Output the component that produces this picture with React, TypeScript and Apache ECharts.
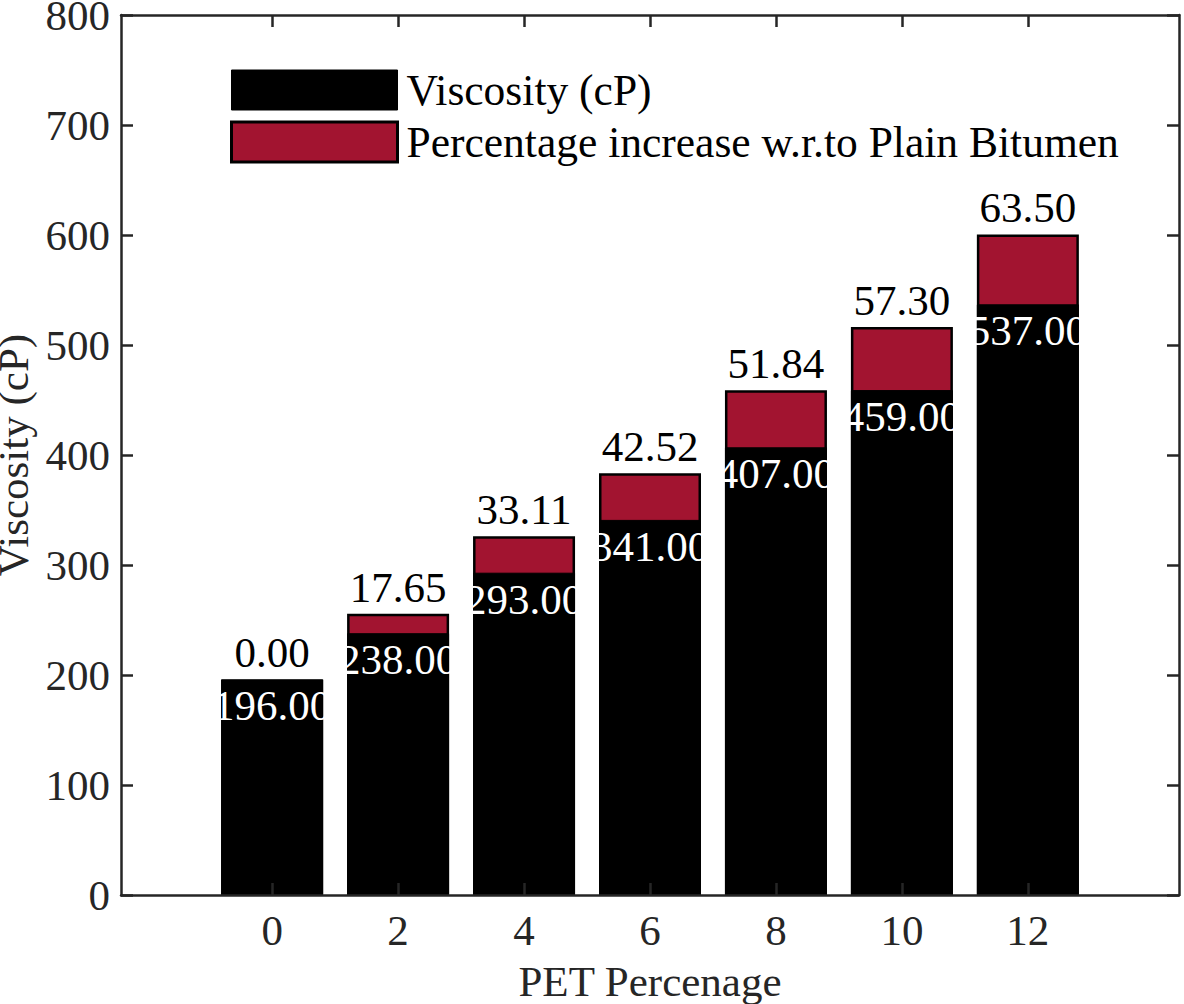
import React, { useEffect, useRef } from 'react';
import * as echarts from 'echarts';

const petPercent = [0, 2, 4, 6, 8, 10, 12];
const viscosity = [196, 238, 293, 341, 407, 459, 537];
const pctIncrease = [0, 17.65, 33.11, 42.52, 51.84, 57.3, 63.5];
const seriesNames = ['Viscosity (cP)', 'Percentage increase w.r.to Plain Bitumen'];
const xName = 'PET Percenage';
const yName = 'Viscosity (cP)';

export default function App() {
  const ref = useRef<HTMLDivElement>(null);
  useEffect(() => {
    const chart = echarts.init(ref.current!, null, { renderer: 'svg' });
    const font = 'Liberation Serif';
    const axisColor = '#262626';
    const crimson = '#A21430';
    const lineStyle = { color: axisColor, width: 2.5 };
    const fs = 43;
    // stacked tops: percentage segment sits on top of the viscosity segment
    const stackedTop = viscosity.map((v, i) => v + pctIncrease[i]);
    chart.setOption({
      animation: false,
      textStyle: { fontFamily: font },
      grid: { left: 121, top: 15, right: 5, bottom: 109, containLabel: false, outerBoundsMode: 'none' },
      legend: {
        orient: 'vertical',
        left: 230,
        top: 68,
        padding: 0,
        itemWidth: 166,
        itemHeight: 40,
        itemGap: 8,
        icon: 'rect',
        textStyle: { fontFamily: font, fontSize: 43.5, color: '#000', lineHeight: 40, padding: [0, 0, 0, 4] },
        data: [
          { name: seriesNames[0], itemStyle: { color: '#000', borderColor: '#000', borderWidth: 1 } },
          { name: seriesNames[1], itemStyle: { color: crimson, borderColor: '#000', borderWidth: 3 } },
        ],
      },
      xAxis: [
        {
          type: 'value',
          min: -2.4,
          max: 14.4,
          position: 'bottom',
          z: 10,
          name: xName,
          nameLocation: 'middle',
          nameGap: 65,
          nameTextStyle: { fontSize: fs, color: axisColor, fontFamily: font },
          axisLine: { show: true, onZero: false, lineStyle },
          axisTick: { show: true, inside: true, length: 12, customValues: petPercent, lineStyle },
          axisLabel: { customValues: petPercent, fontSize: fs, color: axisColor, margin: 14, fontFamily: font },
          splitLine: { show: false },
        },
        {
          type: 'value',
          min: -2.4,
          max: 14.4,
          position: 'top',
          z: 10,
          axisLine: { show: true, onZero: false, lineStyle },
          axisTick: { show: true, inside: true, length: 12, customValues: petPercent, lineStyle },
          axisLabel: { show: false },
          splitLine: { show: false },
        },
      ],
      yAxis: [
        {
          type: 'value',
          min: 0,
          max: 800,
          interval: 100,
          position: 'left',
          z: 10,
          name: yName,
          nameLocation: 'middle',
          nameGap: 80,
          nameTextStyle: { fontSize: fs, color: axisColor, fontFamily: font },
          axisLine: { show: true, onZero: false, lineStyle },
          axisTick: { show: true, inside: true, length: 12, lineStyle },
          axisLabel: { fontSize: fs, color: axisColor, margin: 11, fontFamily: font },
          splitLine: { show: false },
        },
        {
          type: 'value',
          min: 0,
          max: 800,
          interval: 100,
          position: 'right',
          z: 10,
          axisLine: { show: true, onZero: false, lineStyle },
          axisTick: { show: true, inside: true, length: 12, lineStyle },
          axisLabel: { show: false },
          splitLine: { show: false },
        },
      ],
      series: [
        {
          type: 'bar',
          name: seriesNames[1],
          barWidth: 102,
          barGap: '-100%',
          z: 2,
          data: petPercent.map((x, i) => [x, stackedTop[i]]),
          itemStyle: { color: crimson, borderColor: '#000', borderWidth: 2.5 },
          label: {
            show: true,
            position: 'top',
            distance: 5,
            formatter: (p: any) => pctIncrease[p.dataIndex].toFixed(2),
            color: '#000',
            fontSize: fs,
            fontFamily: font,
          },
        },
        {
          type: 'bar',
          name: seriesNames[0],
          barWidth: 102,
          barGap: '-100%',
          z: 3,
          data: petPercent.map((x, i) => [x, viscosity[i]]),
          itemStyle: { color: '#000', borderColor: '#000', borderWidth: 1 },
          label: {
            show: true,
            position: 'insideTop',
            distance: 5,
            formatter: (p: any) => viscosity[p.dataIndex].toFixed(2),
            color: '#fff',
            fontSize: fs,
            fontFamily: font,
          },
        },
      ],
    });
    return () => chart.dispose();
  }, []);
  return (
    <div
      ref={ref}
      style={{ position: 'fixed', left: 0, top: 0, width: 1184, height: 1004, background: '#fff' }}
    />
  );
}
